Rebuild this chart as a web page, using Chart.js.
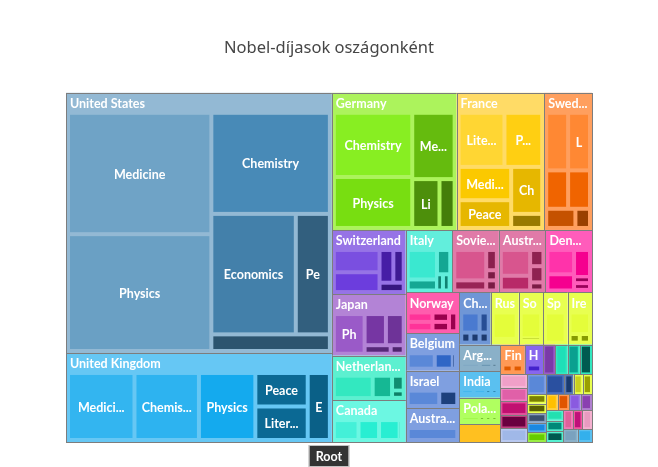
<!DOCTYPE html>
<html>
<head>
<meta charset="utf-8">
<script src="https://cdn.jsdelivr.net/npm/chart.js@4.4.1/dist/chart.umd.min.js"></script>
<style>
body{margin:0;background:#fff}
canvas{display:block}
</style>
</head>
<body>
<canvas id="treemap" width="658" height="467"></canvas>
<script>

const titleText = 'Nobel-díjasok oszágonként'
const rootLabel = 'Root'

// countries, in the order of the source table
const countries = ['United States','United Kingdom','Germany','France','Sweden','Switzerland','Japan',
'Netherlands','Canada','Italy','Soviet Union','Austria','Denmark','Norway','Belgium','Israel','Australia',
'China','Russia','South Africa','Spain','Ireland','Argentina','India','Poland','Czech Republic','Finland','Hungary',
'Lithuania','Egypt','Romania','New Zealand','Mexico','Portugal','Ukraine','Turkey','Pakistan','Luxembourg','Croatia',
'Iran','Algeria','Guatemala','Chile','Colombia','Venezuela','Bangladesh','Kenya','Liberia','Nigeria','Ghana',
'Myanmar','Vietnam','Peru','Iceland','Greece','Slovenia','Belarus','Bulgaria','Cyprus']

// prize categories per country
const prizeCategories = [
['Medicine','Physics','Chemistry','Economics','Peace','Literature'],
['Medicine','Chemistry','Physics','Peace','Literature','Economics'],
['Chemistry','Physics','Medicine','Literature','Peace'],
['Literature','Physics','Medicine','Peace','Chemistry','Economics'],
['Medicine','Literature','Chemistry','Peace','Physics','Economics'],
['Chemistry','Medicine','Physics','Peace','Literature'],
['Physics','Chemistry','Medicine','Literature','Peace'],
['Physics','Chemistry','Medicine','Peace'],
['Physics','Medicine','Chemistry','Economics'],
['Physics','Medicine','Literature','Chemistry','Peace'],
['Physics','Literature','Peace','Chemistry','Economics'],
['Medicine','Chemistry','Physics','Peace','Literature'],
['Medicine','Physics','Literature','Chemistry','Peace'],
['Literature','Peace','Economics','Chemistry','Physics'],
['Peace','Medicine','Chemistry'],
['Chemistry','Economics'],
['Medicine'],
['Physics','Literature','Peace','Chemistry','Medicine'],
['Physics','Chemistry'],
['Peace','Literature'],
['Literature'],
['Literature','Peace','Physics'],
['Peace','Medicine','Chemistry'],
['Literature','Physics','Economics','Peace'],
['Literature','Physics','Chemistry','Peace'],
['Literature','Chemistry','Medicine'],
['Chemistry','Medicine'],
['Medicine'],
['Literature'],['Literature'],['Medicine'],['Chemistry'],['Peace'],['Medicine'],['Literature'],['Literature'],['Physics'],['Physics'],['Chemistry'],
['Peace'],['Literature'],['Peace'],['Literature'],['Literature'],['Peace'],['Peace'],['Peace'],['Peace'],['Literature'],['Peace'],
['Peace'],['Peace'],['Literature'],['Literature'],['Literature'],['Chemistry'],['Literature'],['Literature'],['Chemistry']
]

// number of laureates per category
const prizeCounts = [
[106,102,73,62,25,12],
[33,32,28,13,13,11],
[34,27,19,9,5],
[17,14,12,10,10,3],
[9,9,6,6,4,2],
[9,8,4,3,2],
[11,6,5,2,1],
[10,5,2,1],
[6,5,5,1],
[8,3,3,1,1],
[9,3,2,1,1],
[7,4,2,2,1],
[6,4,4,1,1],
[3,3,2,2,2],
[6,4,1],
[7,4],
[10],
[4,2,1,1,1],
[7,1],
[6,1],
[7],
[5,1,1],
[3,2,1],
[2,2,1,1],
[3,1,1,1],
[2,1,1],
[2,2],
[3],
[2],[2],[2],[2],[2],[2],[2],[2],[2],[2],[2],
[1],[1],[1],[1],[1],[1],[1],[1],[1],[1],[1],
[1],[1],[1],[1],[1],[1],[1],[1],[1]
]

const countryColors = ['#93b9d4','#66c7f4','#acf35c','#ffdb66','#ff9f5e','#9673e6','#b383d6',
'#5cf0d0','#6cf7e2','#62eedc','#e07aa8','#e07aa8','#ff5cbb','#ff5cad','#7f9fe0','#7f9fe0','#7f9fe0',
'#6f96d6','#e8ff50','#e8ff50','#e8ff50','#e8ff50','#8ab0c8','#5ac0f0','#b0ff60','#ffc020','#ff9955','#8866ee',
'#9a5ac8','#33e8c0','#33e8c0','#33e8c0','#f5b5d5','#f080c0','#e0509a','#c04080','#b8c8f0','#7a9ae0','#4a70c0',
'#5a7ab8','#e8ff50','#e8ff50','#e8ff50','#e8ff50','#8aa0c0','#55a8f0','#99ee44','#ffd040','#ff9955','#9a7ae8',
'#b080d0','#55f0d0','#55f0d0','#55f0d0','#f07ab8','#f05aa0','#f5b0d0','#8ab0c8','#5ac0f0']

const leafColors = ['#6fa3c6','#33b5f0','#88ee22','#ffd633','#ff8833','#7a4fe0','#9a5ac8',
'#33e8c0','#44f0d8','#3ae8d0','#d8558e','#d8558e','#ff33aa','#ff3399','#5a88d8','#5a88d8','#5a88d8',
'#4a7ad0','#e4fd3a','#e4fd3a','#e4fd3a','#e4fd3a','#7aa2bf','#33b0ec','#99f540','#f5b000','#e05a00','#4422cc',
'#7a3aa8','#1ee0b8','#0aa090','#005a50','#f0a0c8','#e060a8','#c01070','#6a0040','#a0b8e8','#5a88d8','#2a50a0',
'#1a3a70','#c8d020','#9aa000','#7a8000','#5a6000','#3a5070','#1a88e0','#66cc00','#ffc000','#e05500','#8a5ae0',
'#8a40b0','#22e0b0','#008878','#005a50','#e0609a','#c0107a','#e89ac0','#7aa2bf','#33b0ec']

const labelFont = "bold 12.5px Lato, 'Noto Sans', sans-serif"
const titleFamily = "'Noto Sans', 'Open Sans', sans-serif"

// squarified layout, same steps as echarts treemap
function worst(row,rowArea,fixed,ratio){
let aMax = 0, aMin = Infinity
row.forEach(n=>{
if(n.area){
if(n.area < aMin) aMin = n.area
if(n.area > aMax) aMax = n.area
}
})
let sq = rowArea*rowArea
let f = fixed*fixed*ratio
return sq ? Math.max(f*aMax/sq, sq/(f*aMin)) : Infinity
}

function position(row,rowArea,fixed,rect,halfGap,flush){
let i0 = fixed === rect.width ? 0 : 1
let i1 = 1-i0
let xy = ['x','y'], wh = ['width','height']
let last = rect[xy[i0]]
let other = fixed ? rowArea/fixed : 0
if(flush || other > rect[wh[i1]]) other = rect[wh[i1]]
for(let i=0;i<row.length;i++){
let n = row[i]
let step = other ? n.area/other : 0
let wh1 = Math.max(other-2*halfGap,0)
let remain = rect[xy[i0]]+rect[wh[i0]]-last
let mod = (i === row.length-1 || remain < step) ? remain : step
let wh0 = Math.max(mod-2*halfGap,0)
n[wh[i1]] = wh1
n[wh[i0]] = wh0
n[xy[i1]] = rect[xy[i1]]+Math.min(halfGap,wh1/2)
n[xy[i0]] = last+Math.min(halfGap,wh0/2)
last += mod
}
rect[xy[i1]] += other
rect[wh[i1]] -= other
}

function squarify(nodes,rect,halfGap){
let sum = nodes.reduce((s,n)=>s+n.value,0)
let total = rect.width*rect.height
nodes.forEach(n=>{ n.area = sum ? n.value/sum*total : 0 })
let ratio = 0.5*(1+Math.sqrt(5))
let fixed = Math.min(rect.width,rect.height)
let best = Infinity
let row = [], rowArea = 0
for(let i=0;i<nodes.length;){
let n = nodes[i]
row.push(n)
rowArea += n.area
let score = worst(row,rowArea,fixed,ratio)
if(score <= best){
i++
best = score
}else{
rowArea -= row.pop().area
position(row,rowArea,fixed,rect,halfGap,false)
fixed = Math.min(rect.width,rect.height)
row = []
rowArea = 0
best = Infinity
}
}
if(row.length) position(row,rowArea,fixed,rect,halfGap,true)
}

// colour helpers
function hexToHsl(hex){
let r = parseInt(hex.substr(1,2),16)/255
let g = parseInt(hex.substr(3,2),16)/255
let b = parseInt(hex.substr(5,2),16)/255
let max = Math.max(r,g,b), min = Math.min(r,g,b)
let l = (max+min)/2, h = 0, s = 0
if(max !== min){
let d = max-min
s = l > 0.5 ? d/(2-max-min) : d/(max+min)
if(max === r) h = (g-b)/d+(g < b ? 6 : 0)
else if(max === g) h = (b-r)/d+2
else h = (r-g)/d+4
h /= 6
}
return [h*360,s*100,l*100]
}

function shade(hex,t){
let hsl = hexToHsl(hex)
let l = hsl[2]*0.5 + hsl[2]*0.5*t
return 'hsl('+hsl[0].toFixed(1)+','+hsl[1].toFixed(1)+'%,'+l.toFixed(1)+'%)'
}

// label truncation: '...' only when the box is wide enough, else plain cut
function truncate(ctx,text,width,boxWidth){
let container = Math.max(0,width-1)
let full = ctx.measureText(text).width
if(full <= container) return {text:text,cut:0}
let asc = ctx.measureText('a').width
let ell = boxWidth >= 31 ? '...' : ''
let content = container-ctx.measureText(ell).width
let line = text, lw = full
for(let j=0;;j++){
if(lw <= content || j >= 2){ line += ell; break }
let sub
if(j === 0){
let w = 0, k = 0
for(;k<line.length && w < content;k++) w += asc
sub = k
}else{
sub = lw > 0 ? Math.floor(line.length*content/lw) : 0
}
line = line.substr(0,sub)
lw = ctx.measureText(line).width
}
if(line === ell) line = ''
return {text:line,cut:ell ? 1 : 2}
}

function buildNodes(){
let nodes = countries.map((name,i)=>{
let counts = prizeCounts[i]
let vmax = Math.max(...counts), vmin = Math.min(...counts)
let children = prizeCategories[i].map((cat,j)=>({
name:cat,
value:counts[j],
color:shade(leafColors[i], vmax === vmin ? 1 : (counts[j]-vmin)/(vmax-vmin))
}))
children.sort((a,b)=>b.value-a.value)
return {
name:name,
value:counts.reduce((s,v)=>s+v,0),
color:countryColors[i],
children:children
}
})
nodes.sort((a,b)=>b.value-a.value)
return nodes
}

const treemapPlugin = {
id:'treemapCells',
afterDatasetsDraw(chart){
const ctx = chart.ctx
const xs = chart.scales.x
const ys = chart.scales.y
let left = xs.getPixelForValue(0), right = xs.getPixelForValue(1)
let top = ys.getPixelForValue(1), bottom = ys.getPixelForValue(0)

let nodes = buildNodes()
squarify(nodes,{x:left,y:top,width:right-left,height:bottom-top},0)

ctx.save()
ctx.textBaseline = 'middle'

nodes.forEach(n=>{
let compact = n.width < 18 || (n.height < 24 && n.width < 30)

ctx.fillStyle = n.color
ctx.fillRect(n.x,n.y,n.width,n.height)

let inner
if(compact){
inner = {x:n.x+1,y:n.y+1,width:Math.max(n.width-2,0),height:Math.max(n.height-2,0)}
squarify(n.children,inner,1)
}else{
inner = {x:n.x+2,y:n.y+20,width:Math.max(n.width-4,0),height:Math.max(n.height-22,0)}
squarify(n.children,inner,2)
}

n.children.forEach(c=>{
if(c.width <= 0 || c.height <= 0) return
ctx.fillStyle = c.color
ctx.fillRect(c.x,c.y,c.width,c.height)
})

ctx.strokeStyle = '#7d7d7d'
ctx.lineWidth = 1
ctx.strokeRect(Math.round(n.x)+0.5,Math.round(n.y)+0.5,Math.round(n.x+n.width)-Math.round(n.x),Math.round(n.y+n.height)-Math.round(n.y))

ctx.font = labelFont
ctx.fillStyle = '#fff'

// country label
if(!compact && n.height >= 24){
ctx.textAlign = 'left'
let t = truncate(ctx,n.name,n.width-6,n.width)
if(t.text) ctx.fillText(t.text,n.x+4,n.y+11)
}

// category labels
if(!compact){
ctx.textAlign = 'center'
n.children.forEach(c=>{
if(c.height < 23 || c.width < 12) return
let t = truncate(ctx,c.name,c.width-10,c.width)
let need = [23,27,33][t.cut]
if(t.text && c.height >= need) ctx.fillText(t.text,c.x+c.width/2,c.y+c.height/2+1)
})
}
})

// breadcrumb
ctx.font = labelFont
let bw = Math.max(ctx.measureText(rootLabel).width+14,25)
let bx = chart.width/2-bw/2
let by = chart.chartArea.bottom+3
ctx.fillStyle = 'rgba(0,0,0,0.8)'
ctx.fillRect(bx,by,bw,22)
ctx.strokeStyle = 'rgba(255,255,255,0.7)'
ctx.strokeRect(bx+0.5,by+0.5,bw-1,21)
ctx.fillStyle = '#fff'
ctx.textAlign = 'center'
ctx.fillText(rootLabel,bx+bw/2,by+11.5)

ctx.restore()
}
}

new Chart(document.getElementById('treemap'),{
type:'scatter',
data:{datasets:[{data:[]}]},
options:{
responsive:false,
animation:false,
layout:{padding:{left:66,right:66,top:0,bottom:25}},
plugins:{
legend:{display:false},
tooltip:{enabled:false},
title:{
display:true,
text:titleText,
color:'#464646',
font:{family:titleFamily,size:16.5,weight:'normal'},
padding:{top:38,bottom:35}
}
},
scales:{
x:{type:'linear',min:0,max:1,display:false},
y:{type:'linear',min:0,max:1,display:false}
}
},
plugins:[treemapPlugin]
})

</script>
</body>
</html>
